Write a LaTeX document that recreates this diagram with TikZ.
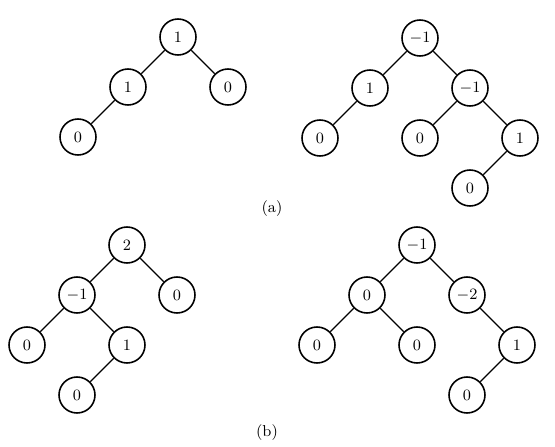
\documentclass[tikz,border=0pt]{standalone}
\usepackage{amsmath}
\usepackage{tikz}
\usetikzlibrary{positioning}
\tikzset{
tree_node/.style={circle, draw, line width=0.9pt, minimum size=7.2mm, inner sep=0pt, fill=white, font=\small},
tree_edge/.style={line width=0.8pt},
caption/.style={rectangle, inner sep=1pt, font=\small}
}

\begin{document}
\begin{tikzpicture}[node distance=1cm and 1cm, on grid]
    \useasboundingbox (0,0) rectangle (11.1,-8.94);
    % (a), left tree
    \node[tree_node] (al_root) at (3.56,-0.74) {$1$};
    \node[tree_node] (al_l) [below left=of al_root] {$1$};
    \node[tree_node] (al_r) [below right=of al_root] {$0$};
    \node[tree_node] (al_ll) [below left=of al_l] {$0$};
    \draw[tree_edge] (al_root) -- (al_l) (al_root) -- (al_r) (al_l) -- (al_ll);
    % (a), right tree
    \node[tree_node] (ar_root) at (8.4,-0.76) {$-1$};
    \node[tree_node] (ar_l) [below left=of ar_root] {$1$};
    \node[tree_node] (ar_r) [below right=of ar_root] {$-1$};
    \node[tree_node] (ar_ll) [below left=of ar_l] {$0$};
    \node[tree_node] (ar_rl) [below left=of ar_r] {$0$};
    \node[tree_node] (ar_rr) [below right=of ar_r] {$1$};
    \node[tree_node] (ar_rrl) [below left=of ar_rr] {$0$};
    \draw[tree_edge] (ar_root) -- (ar_l) (ar_root) -- (ar_r) (ar_l) -- (ar_ll);
    \draw[tree_edge] (ar_r) -- (ar_rl) (ar_r) -- (ar_rr) (ar_rr) -- (ar_rrl);
    \node[caption] (cap_a) at (5.44,-4.18) {(a)};
    % (b), left tree
    \node[tree_node] (bl_root) at (2.54,-4.9) {$2$};
    \node[tree_node] (bl_l) [below left=of bl_root] {$-1$};
    \node[tree_node] (bl_r) [below right=of bl_root] {$0$};
    \node[tree_node] (bl_ll) [below left=of bl_l] {$0$};
    \node[tree_node] (bl_lr) [below right=of bl_l] {$1$};
    \node[tree_node] (bl_lrl) [below left=of bl_lr] {$0$};
    \draw[tree_edge] (bl_root) -- (bl_l) (bl_root) -- (bl_r) (bl_l) -- (bl_ll);
    \draw[tree_edge] (bl_l) -- (bl_lr) (bl_lr) -- (bl_lrl);
    % (b), right tree
    \node[tree_node] (br_root) at (8.34,-4.9) {$-1$};
    \node[tree_node] (br_l) [below left=of br_root] {$0$};
    \node[tree_node] (br_r) [below right=of br_root] {$-2$};
    \node[tree_node] (br_ll) [below left=of br_l] {$0$};
    \node[tree_node] (br_lr) [below right=of br_l] {$0$};
    \node[tree_node] (br_rr) [below right=of br_r] {$1$};
    \node[tree_node] (br_rrl) [below left=of br_rr] {$0$};
    \draw[tree_edge] (br_root) -- (br_l) (br_root) -- (br_r) (br_l) -- (br_ll);
    \draw[tree_edge] (br_l) -- (br_lr) (br_r) -- (br_rr) (br_rr) -- (br_rrl);
    \node[caption] (cap_b) at (5.34,-8.66) {(b)};
\end{tikzpicture}
\end{document}
